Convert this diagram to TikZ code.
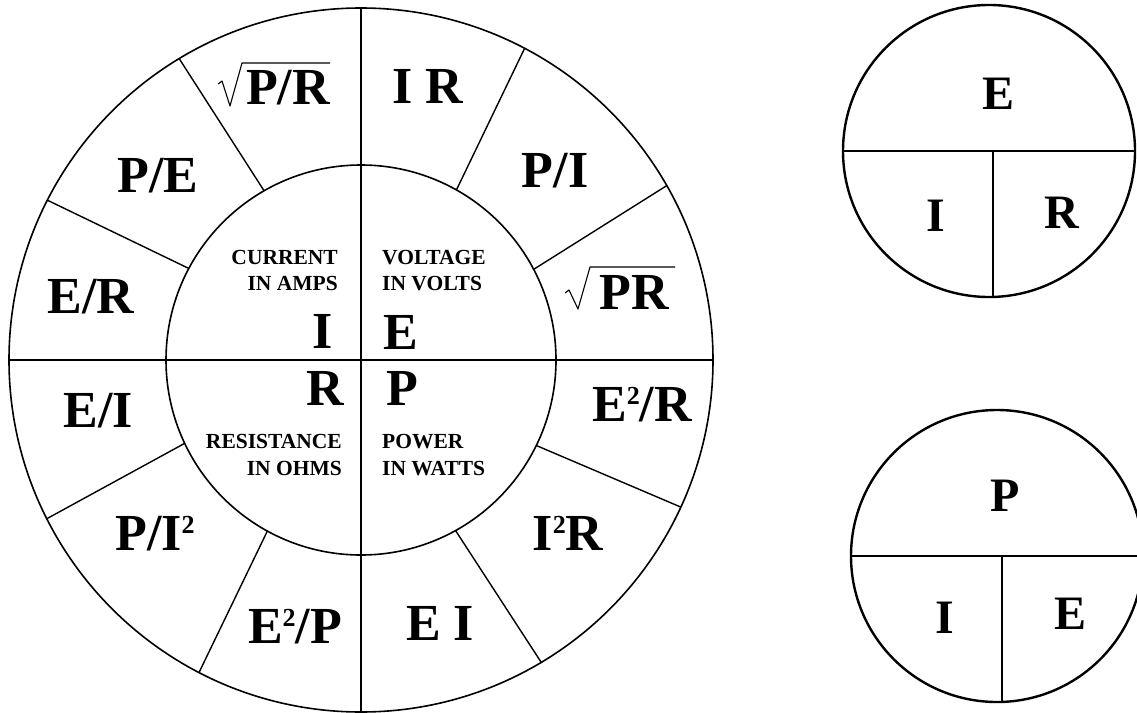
\documentclass[tikz,border=0pt]{standalone}
\usepackage{fontspec}
\setmainfont{Liberation Serif}
\usetikzlibrary{calc}
% raised half-size "2" for squared quantities
\newcommand\twosup{\raisebox{0.32em}{\scalebox{0.5}{2}}}
\begin{document}
\begin{tikzpicture}[x=1pt,y=-1pt,
  rim/.style={line width=1.6pt},
  spoke/.style={line width=1.4pt},
  formula/.style={font=\fontsize{52}{52}\selectfont\bfseries, inner sep=0pt, anchor=base},
  caption/.style={font=\fontsize{21.5}{21.5}\selectfont\bfseries, inner sep=0pt},
  radical/.style={line width=1.1pt, line join=round},
  tri/.style={line width=2.4pt},
  triline/.style={line width=1.8pt},
  triletter/.style={font=\fontsize{48}{48}\selectfont\bfseries, inner sep=0pt, anchor=base}
]
\clip (0,0) rectangle (1137,712);
\fill[white] (0,0) rectangle (1137,712);

% ---- Ohm's law wheel ----
\coordinate (C) at (361,360);
\draw[rim] (C) circle[radius=352pt];
\draw[rim] (C) circle[radius=195pt];
\draw[spoke] ($(C)+(90:352pt)$) -- ($(C)+(270:352pt)$);
\draw[spoke] ($(C)+(180:352pt)$) -- ($(C)+(0:352pt)$);
\foreach \a/\b in {60.7/62.3, 27.7/29.7, 119.8/121.1, 152/153,
                   205.3/206.8, 241.3/242.6, -26/-24.7, -61/-59.2}
  \draw[spoke] ($(C)+(\a:195pt)$) -- ($(C)+(\b:352pt)$);

% outer ring formulas
\node[formula] (fPR1) at (288,104) {P/R};
\draw[radical] (218,84) -- (222,81) -- (230,106) -- (242,63) -- (330,63);
\node[formula] (fIR)  at (428,103) {I R};
\node[formula] (fPI)  at (555,187) {P/I};
\node[formula] (fPR2) at (634,309) {PR};
\draw[radical] (565,293) -- (569,290) -- (578,309) -- (590,267) -- (675,267);
\node[formula] (fPE)  at (158,192) {P/E};
\node[formula] (fER)  at (91,313)  {E/R};
\node[formula] (fEI)  at (98,427)  {E/I};
\node[formula] (fPI2) at (155,550) {P/I\twosup};
\node[formula] (fE2P) at (295,643) {E\twosup/P};
\node[formula] (fE2R) at (642,421) {E\twosup/R};
\node[formula] (fI2R) at (568,550) {I\twosup R};
\node[formula] (fEIp) at (440,640) {E I};

% hub quantities
\node[formula] (qI) at (323,348) {I};
\node[formula] (qE) at (401,349) {E};
\node[formula] (qR) at (325,405) {R};
\node[formula] (qP) at (402,405) {P};

\node[caption, anchor=base east] (cur1) at (338,264) {CURRENT};
\node[caption, anchor=base east] (cur2) at (338,290) {IN AMPS};
\node[caption, anchor=base west] (vol1) at (382,264) {VOLTAGE};
\node[caption, anchor=base west] (vol2) at (382,290) {IN VOLTS};
\node[caption, anchor=base east] (res1) at (342,448) {RESISTANCE};
\node[caption, anchor=base east] (res2) at (342,475) {IN OHMS};
\node[caption, anchor=base west] (pow1) at (382,448) {POWER};
\node[caption, anchor=base west] (pow2) at (382,475) {IN WATTS};

% ---- E = I R triangle circle ----
\coordinate (T) at (989,151);
\draw[tri] (T) circle[radius=146pt];
\draw[triline] ($(T)+(-146,0)$) -- ($(T)+(146,0)$);
\draw[triline] (993,151) -- (993,297);
\node[triletter] (tE) at (998,109)  {E};
\node[triletter] (tI) at (936,231)  {I};
\node[triletter] (tR) at (1062,228) {R};

% ---- P = I E triangle circle ----
\coordinate (B) at (997,556);
\draw[tri] (B) circle[radius=146pt];
\draw[triline] ($(B)+(-146,0)$) -- ($(B)+(146,0)$);
\draw[triline] (1002,556) -- (1002,702);
\node[triletter] (bP) at (1005,511) {P};
\node[triletter] (bI) at (945,633)  {I};
\node[triletter] (bE) at (1070,629) {E};
\end{tikzpicture}
\end{document}
